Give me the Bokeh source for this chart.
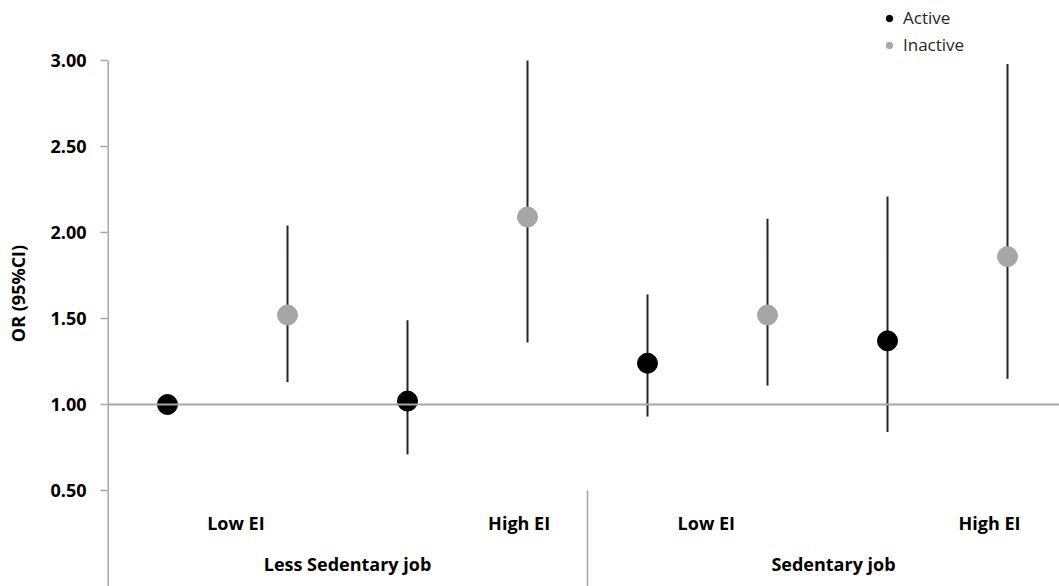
from bokeh.plotting import figure
from bokeh.models import (ColumnDataSource, FixedTicker, CustomJSTickFormatter, Span,
                          Legend, LegendItem)
from bokeh.core.properties import value
from bokeh.embed import file_html
from bokeh.resources import INLINE

# ---- data ----
job_groups = ["Less Sedentary job", "Sedentary job"]
ei_levels = ["Low EI", "High EI", "Low EI", "High EI"]
series = ["Active", "Inactive"]

active_or = [1.00, 1.02, 1.24, 1.37]
active_lo = [1.00, 0.71, 0.93, 0.84]
active_hi = [1.00, 1.49, 1.64, 2.21]

inactive_or = [1.52, 2.09, 1.52, 1.86]
inactive_lo = [1.13, 1.36, 1.11, 1.15]
inactive_hi = [2.04, 3.00, 2.08, 2.98]

y_ticks = [0.5, 1.0, 1.5, 2.0, 2.5, 3.0]

# ---- layout ----
FONT = "Open Sans"
W, H = 1059, 586
LEFT = 107
AXIS_TOP_PX = 60          # where the value axis starts (3.00)
PX_X = 120.0
PX_Y = 172.0
frame_w = W - LEFT
frame_h = H
y_axis_max = 3.0
y_top = y_axis_max + AXIS_TOP_PX / PX_Y
y_bot = y_top - frame_h / PX_Y
x_end = frame_w / PX_X

p = figure(width=W, height=H, output_backend="svg", toolbar_location=None,
           x_range=(0, x_end), y_range=(y_bot, y_top),
           min_border_left=LEFT, min_border_right=0, min_border_top=0, min_border_bottom=0)
p.xaxis.visible = False
p.grid.visible = False
p.outline_line_color = None
p.background_fill_color = "white"
p.border_fill_color = "white"

yax = p.yaxis[0]
yax.ticker = FixedTicker(ticks=y_ticks)
yax.formatter = CustomJSTickFormatter(code="return tick.toFixed(2);")
yax.minor_tick_line_color = None
yax.major_tick_out = 7
yax.major_tick_in = 0
yax.major_tick_line_color = "#A6A6A6"
yax.major_tick_line_width = 1.5
yax.axis_line_color = None
yax.major_label_text_font = FONT
yax.major_label_text_font_style = "bold"
yax.major_label_text_font_size = "18px"
yax.major_label_text_color = "#000000"
yax.major_label_standoff = 14
yax.axis_label = "OR (95%CI)"
yax.axis_label_text_font = FONT
yax.axis_label_text_font_style = "bold"
yax.axis_label_text_font_size = "18px"
yax.axis_label_text_color = "#000000"
yax.axis_label_standoff = 17

# value-axis line, from 3.00 down to the bottom
p.segment(x0=[0], y0=[y_bot - 1], x1=[0], y1=[y_axis_max], line_color="#A6A6A6", line_width=3)

# reference line at OR = 1
p.add_layout(Span(location=1.0, dimension="width", line_color="#A6A6A6", line_width=2))

n = len(active_or)
ax_x = [2 * i + 0.5 for i in range(n)]
in_x = [2 * i + 1.5 for i in range(n)]

src_a = ColumnDataSource(dict(x=ax_x, y=active_or, lo=active_lo, hi=active_hi))
src_i = ColumnDataSource(dict(x=in_x, y=inactive_or, lo=inactive_lo, hi=inactive_hi))

for src in (src_a, src_i):
    p.segment(x0="x", y0="lo", x1="x", y1="hi", source=src, line_color="#262626", line_width=2)

p.scatter(x="x", y="y", source=src_a, size=20, marker="circle",
          fill_color="#000000", line_color="#000000")
p.scatter(x="x", y="y", source=src_i, size=20, marker="circle",
          fill_color="#A6A6A6", line_color="#A6A6A6")

# group separator
p.segment(x0=[4], y0=[0.5], x1=[4], y1=[y_bot - 1], line_color="#A6A6A6", line_width=1.5)

# category labels
nudge = [0.07, 0.43, -0.01, 0.35]
lab_x = [2 * i + 1 + nudge[i] for i in range(n)]
lab_src = ColumnDataSource(dict(x=lab_x, y=[0.31] * n, t=ei_levels))
p.text(x="x", y="y", text="t", source=lab_src, text_align="center", text_baseline="middle",
       text_font=value(FONT), text_font_style="bold", text_font_size="18px", text_color="#000000")
grp_x = [2.0, 6.05]
grp_src = ColumnDataSource(dict(x=grp_x, y=[0.07, 0.07], t=job_groups))
p.text(x="x", y="y", text="t", source=grp_src, text_align="center", text_baseline="middle",
       text_font=value(FONT), text_font_style="bold", text_font_size="18px", text_color="#000000")

# legend (small marker proxies with no visible points), inside the frame's top-right area
nan = float("nan")
la = p.scatter(x=[nan], y=[nan], size=11, marker="circle", fill_color="#000000", line_color="#000000")
li = p.scatter(x=[nan], y=[nan], size=11, marker="circle", fill_color="#A6A6A6", line_color="#A6A6A6")
legend = Legend(items=[LegendItem(label=series[0], renderers=[la], index=0),
                       LegendItem(label=series[1], renderers=[li], index=0)],
                location=(774, frame_h - 56), orientation="vertical",
                label_text_font=FONT, label_text_font_size="17px", label_text_color="#262626",
                glyph_width=16, glyph_height=20, label_height=20, label_standoff=6,
                spacing=4, padding=0, margin=0,
                border_line_color=None, background_fill_alpha=0)
p.add_layout(legend, "center")

open("out.html", "w").write(file_html(p, INLINE))
